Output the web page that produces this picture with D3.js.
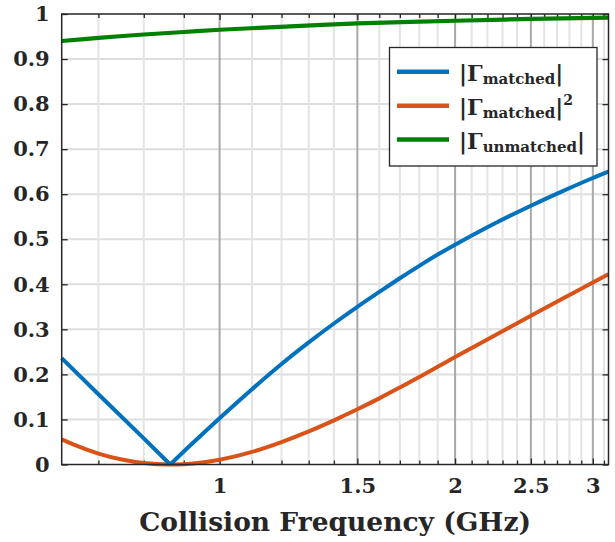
<!DOCTYPE html>
<html>
<head>
<meta charset="utf-8">
<script src="https://cdn.jsdelivr.net/npm/d3@7"></script>
<style>
  html, body { margin: 0; padding: 0; background: #fff; }
  svg { display: block; }
  text { font-family: "DejaVu Serif", "Liberation Serif", serif; font-weight: bold; fill: #262626; }
</style>
</head>
<body>
<svg id="chart" width="615" height="542"></svg>
<script>
// Collision frequency samples (GHz) and reflection-coefficient magnitudes
const freqMatched = [0.6283, 0.7, 0.8, 0.8647, 0.9, 0.95, 1.0, 1.1, 1.2, 1.3, 1.4, 1.5, 1.6, 1.7, 1.8, 1.9, 2.0, 2.25, 2.5, 2.75, 3.0, 3.1416];
const gammaMatched = [0.236, 0.156, 0.058, 0.0, 0.029, 0.067, 0.1026, 0.167, 0.223, 0.271, 0.313, 0.350, 0.383, 0.4135, 0.441, 0.466, 0.488, 0.5355, 0.5745, 0.6075, 0.636, 0.650];

const freqPower = [0.6283, 0.65, 0.7, 0.75, 0.8, 0.8647, 0.9, 0.95, 1.0, 1.1, 1.2, 1.3, 1.4, 1.5, 1.6, 1.7, 1.8, 1.9, 2.0, 2.25, 2.5, 2.75, 3.0, 3.1416];
const gammaMatchedSq = [0.0557, 0.0446, 0.0243, 0.0111, 0.0033, 0.0, 0.0008, 0.0045, 0.0105, 0.0279, 0.0497, 0.0734, 0.0980, 0.1225, 0.1468, 0.1710, 0.1944, 0.2170, 0.2385, 0.2868, 0.3301, 0.3689, 0.4041, 0.4225];

const freqUnmatched = [0.6283, 0.7, 0.8, 0.9, 1.0, 1.25, 1.5, 2.0, 2.5, 3.1416];
const gammaUnmatched = [0.940, 0.947, 0.9545, 0.960, 0.965, 0.973, 0.979, 0.985, 0.989, 0.992];

const xTickValues = [1, 1.5, 2, 2.5, 3];
const xTickLabels = ["1", "1.5", "2", "2.5", "3"];
const xMinorValues = [0.7, 0.8, 0.9, 1.1, 1.2, 1.3, 1.4, 1.6, 1.7, 1.8, 1.9, 2.1, 2.2, 2.3, 2.4, 2.6, 2.7, 2.8, 2.9, 3.1];
const yTickValues = [0, 0.1, 0.2, 0.3, 0.4, 0.5, 0.6, 0.7, 0.8, 0.9, 1];
const yTickLabels = ["0", "0.1", "0.2", "0.3", "0.4", "0.5", "0.6", "0.7", "0.8", "0.9", "1"];

const seriesNames = ["matched", "matched", "unmatched"];
const seriesColors = ["#0072BD", "#D95319", "#008000"];

const svg = d3.select("#chart");
const plotL = 61.7, plotR = 608.5, plotT = 14, plotB = 464.5;

const x = d3.scaleLog().domain([0.6283, 3.1416]).range([plotL, plotR]);
const y = d3.scaleLinear().domain([0, 1]).range([plotB, plotT]);

// grid
const grid = svg.append("g");
grid.selectAll(".hgrid").data(yTickValues.slice(1, -1)).join("line")
  .attr("x1", plotL).attr("x2", plotR)
  .attr("y1", d => y(d)).attr("y2", d => y(d))
  .attr("stroke", "#dedede").attr("stroke-width", 2);
grid.selectAll(".vminor").data(xMinorValues).join("line")
  .attr("x1", d => x(d)).attr("x2", d => x(d))
  .attr("y1", plotT).attr("y2", plotB)
  .attr("stroke", "#e4e4e4").attr("stroke-width", 2);
grid.selectAll(".vmajor").data(xTickValues).join("line")
  .attr("x1", d => x(d)).attr("x2", d => x(d))
  .attr("y1", plotT).attr("y2", plotB)
  .attr("stroke", "#a9a9a9").attr("stroke-width", 2);

// axes (ticks pointing inward)
const axisBottom = d3.axisBottom(x).tickValues(xTickValues).tickFormat((d, i) => xTickLabels[i]).tickSizeInner(-6).tickSizeOuter(0).tickPadding(14);
const axisTop = d3.axisTop(x).tickValues(xTickValues).tickFormat("").tickSizeInner(-6).tickSizeOuter(0);
const minorBottom = d3.axisBottom(x).tickValues(xMinorValues).tickFormat("").tickSizeInner(-4).tickSizeOuter(0);
const minorTop = d3.axisTop(x).tickValues(xMinorValues).tickFormat("").tickSizeInner(-4).tickSizeOuter(0);
const axisLeft = d3.axisLeft(y).tickValues(yTickValues).tickFormat((d, i) => yTickLabels[i]).tickSizeInner(-6).tickSizeOuter(0).tickPadding(12);
const axisRight = d3.axisRight(y).tickValues(yTickValues).tickFormat("").tickSizeInner(-6).tickSizeOuter(0);

function styleAxis(g) {
  g.select(".domain").remove();
  g.selectAll(".tick line").attr("stroke", "#262626").attr("stroke-width", 1.3);
  g.selectAll(".tick text").attr("font-size", 21).attr("font-family", null).attr("fill", "#262626");
}

svg.append("g").attr("transform", `translate(0,${plotB})`).call(axisBottom).call(styleAxis);
svg.append("g").attr("transform", `translate(0,${plotB})`).call(minorBottom).call(styleAxis);
svg.append("g").attr("transform", `translate(0,${plotT})`).call(axisTop).call(styleAxis);
svg.append("g").attr("transform", `translate(0,${plotT})`).call(minorTop).call(styleAxis);
svg.append("g").attr("transform", `translate(${plotL},0)`).call(axisLeft).call(styleAxis);
svg.append("g").attr("transform", `translate(${plotR},0)`).call(axisRight).call(styleAxis);

// curves
const lineLinear = d3.line().x(d => x(d[0])).y(d => y(d[1]));
const lineMono = d3.line().x(d => x(d[0])).y(d => y(d[1])).curve(d3.curveMonotoneX);
const lineSpline = d3.line().x(d => x(d[0])).y(d => y(d[1])).curve(d3.curveCatmullRom.alpha(0.5));

const plot = svg.append("g");
plot.append("path").datum(d3.zip(freqUnmatched, gammaUnmatched))
  .attr("d", lineSpline).attr("fill", "none").attr("stroke", seriesColors[2]).attr("stroke-width", 4.2);
plot.append("path").datum(d3.zip(freqPower, gammaMatchedSq))
  .attr("d", lineMono).attr("fill", "none").attr("stroke", seriesColors[1]).attr("stroke-width", 4);

// |Γ| has a sharp null: draw each side of the minimum as its own branch
const matchedPts = d3.zip(freqMatched, gammaMatched);
const nullIdx = d3.minIndex(gammaMatched);
const blueBranches = [matchedPts.slice(0, nullIdx + 1), matchedPts.slice(nullIdx)];
plot.append("path").attr("d", lineLinear(blueBranches[0]) + lineSpline(blueBranches[1]))
  .attr("fill", "none").attr("stroke", seriesColors[0]).attr("stroke-width", 4)
  .attr("stroke-linejoin", "miter");

// frame
svg.append("rect").attr("x", plotL).attr("y", plotT).attr("width", plotR - plotL).attr("height", plotB - plotT)
  .attr("fill", "none").attr("stroke", "#262626").attr("stroke-width", 1.5);

// x label
svg.append("text").attr("x", (plotL + plotR) / 2).attr("y", 531).attr("text-anchor", "middle")
  .attr("font-size", 26.5).text("Collision Frequency (GHz)");

// legend
const lg = svg.append("g");
lg.append("rect").attr("x", 389.5).attr("y", 47.5).attr("width", 207.5).attr("height", 118.5)
  .attr("fill", "#fff").attr("stroke", "#262626").attr("stroke-width", 1.3);
const rowsY = [71.7, 105.7, 139.5];
seriesNames.forEach((name, i) => {
  lg.append("line").attr("x1", 397).attr("x2", 449).attr("y1", rowsY[i]).attr("y2", rowsY[i])
    .attr("stroke", seriesColors[i]).attr("stroke-width", 4.5);
  const t = lg.append("text").attr("x", 459).attr("y", rowsY[i] + 9).attr("font-size", 22);
  t.append("tspan").text("|Γ");
  t.append("tspan").attr("font-size", 15).attr("dy", 3).text(name);
  t.append("tspan").attr("dy", -3).text("|");
  if (i === 1) t.append("tspan").attr("font-size", 14).attr("dy", -10).text("2");
});
</script>
</body>
</html>
